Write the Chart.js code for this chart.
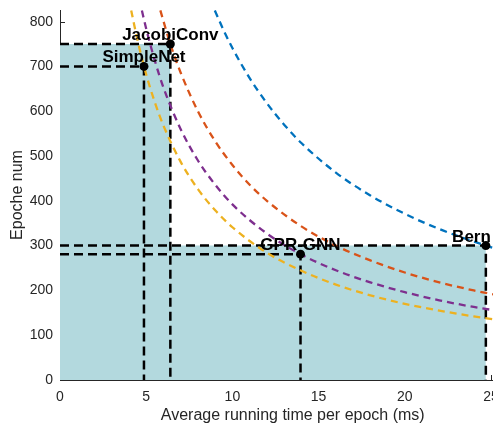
<!DOCTYPE html>
<html>
<head>
<meta charset="utf-8">
<script src="https://cdn.jsdelivr.net/npm/chart.js@4"></script>
<style>
html, body { margin: 0; padding: 0; background: #fff; overflow: hidden; }
</style>
</head>
<body>
<canvas id="myChart" width="530" height="424"></canvas>
<script>
const methods = ['SimpleNet', 'JacobiConv', 'GPR-GNN', 'Bern'];
const runTimes = [4.87, 6.4, 13.95, 24.7];
const epochNums = [700, 750, 281, 300];
const xTicks = [0, 5, 10, 15, 20, 25];
const yTicks = [0, 100, 200, 300, 400, 500, 600, 700, 800];

// dashed iso-cost curves
const yellowX = [4.13, 4.5, 5, 5.5, 6, 7, 8, 9, 10, 12, 14, 16, 18, 20, 22, 24, 26, 27];
const yellowY = [825, 758, 682, 620, 568, 487, 426, 379, 341, 284, 244, 213, 189, 170, 155, 142, 131, 126];
const purpleX = [4.75, 5, 5.5, 6, 7, 8, 9, 10, 12, 14, 16, 18, 20, 22, 24, 26, 27];
const purpleY = [825, 784, 713, 653, 560, 490, 436, 392, 327, 280, 245, 218, 196, 178, 163, 151, 145];
const orangeX = [5.82, 6.4, 7, 8, 9, 10, 11, 12, 14, 16, 18, 20, 22, 24, 26, 27];
const orangeY = [825, 750, 686, 600, 533, 480, 436, 400, 343, 300, 267, 240, 218, 200, 185, 178];
const blueX = [8.98, 9.5, 10, 11, 12, 13, 14, 16, 18, 20, 22, 24, 24.7, 26, 27];
const blueY = [825, 780, 741, 674, 618, 570, 529, 463, 412, 371, 337, 309, 300, 285, 274];

Chart.defaults.font.family = '"Liberation Sans", Arial, sans-serif';
Chart.defaults.color = '#262626';

const toPts = (xs, ys) => xs.map((x, i) => ({ x: x, y: ys[i] }));
const shade = '#b3d9de';

const datasets = [];

// shaded rectangles under each method
methods.forEach((m, i) => {
    datasets.push({
        data: [{ x: 0, y: epochNums[i] }, { x: runTimes[i], y: epochNums[i] }, { x: runTimes[i], y: 0 }],
        showLine: true,
        borderWidth: 0,
        borderColor: shade,
        backgroundColor: shade,
        fill: 'origin',
        pointRadius: 0,
        order: 10,
    });
});

// black dashed guide lines
methods.forEach((m, i) => {
    datasets.push({
        data: [{ x: 0, y: epochNums[i] }, { x: runTimes[i], y: epochNums[i] }, { x: runTimes[i], y: 0 }],
        showLine: true,
        borderColor: '#000',
        borderWidth: 2.5,
        borderDash: [9, 5],
        pointRadius: 0,
        fill: false,
        clip: false,
        order: 6,
    });
});

const curves = [
    [blueX, blueY, '#0072BD'],
    [orangeX, orangeY, '#D95319'],
    [purpleX, purpleY, '#7E2F8E'],
    [yellowX, yellowY, '#EDB120'],
];
curves.forEach((c) => {
    datasets.push({
        data: toPts(c[0], c[1]),
        showLine: true,
        borderColor: c[2],
        borderWidth: 2.3,
        borderDash: [7, 5],
        cubicInterpolationMode: 'monotone',
        pointRadius: 0,
        fill: false,
        order: 4,
    });
});

// method points
datasets.push({
    data: toPts(runTimes, epochNums),
    showLine: false,
    pointRadius: 4.5,
    pointBackgroundColor: '#000',
    pointBorderColor: '#000',
    pointBorderWidth: 0,
    clip: false,
    order: 1,
});

const config = {
    type: 'scatter',
    data: { datasets: datasets },
    options: {
        responsive: false,
        animation: false,
        layout: { padding: { top: 10, right: 3, left: 0, bottom: 0 } },
        scales: {
            x: {
                type: 'linear',
                min: 0,
                max: 27,
                afterBuildTicks: (scale) => { scale.ticks = xTicks.map((v) => ({ value: v })); },
                afterFit: (scale) => { scale.height = 44; },
                grid: { display: false, drawTicks: false },
                border: { display: true, color: '#262626', width: 1 },
                ticks: { font: { size: 14 }, padding: 9, maxRotation: 0, autoSkip: false },
                title: {
                    display: true,
                    text: 'Average running time per epoch (ms)',
                    font: { size: 16, lineHeight: 1 },
                    padding: { top: 0, bottom: 0 },
                },
            },
            y: {
                min: 0,
                max: 826,
                afterBuildTicks: (scale) => { scale.ticks = yTicks.map((v) => ({ value: v })); },
                afterFit: (scale) => {
                    scale.width = 60;
                    scale.paddingTop = 0;
                    scale.paddingBottom = 0;
                },
                grid: { display: false, drawTicks: false },
                border: { display: true, color: '#262626', width: 1 },
                ticks: { font: { size: 14 }, padding: 7 },
                title: {
                    display: true,
                    text: 'Epoche num',
                    font: { size: 16, lineHeight: 1 },
                    padding: { top: 9.5, bottom: 0 },
                },
            },
        },
        plugins: {
            legend: { display: false },
            tooltip: { enabled: false },
        },
    },
    plugins: [
        {
            // inward tick marks, drawn under the shading
            beforeDatasetsDraw: (chart) => {
                const ctx = chart.ctx;
                const xs = chart.scales.x;
                const ys = chart.scales.y;
                ctx.save();
                ctx.strokeStyle = '#262626';
                ctx.lineWidth = 1;
                ctx.beginPath();
                xTicks.forEach((v) => {
                    const px = Math.round(xs.getPixelForValue(v)) + 0.5;
                    ctx.moveTo(px, ys.bottom);
                    ctx.lineTo(px, ys.bottom - 5);
                });
                yTicks.forEach((v) => {
                    const py = Math.round(ys.getPixelForValue(v)) + 0.5;
                    ctx.moveTo(xs.left, py);
                    ctx.lineTo(xs.left + 5, py);
                });
                ctx.stroke();
                ctx.restore();
            },
            afterDatasetsDraw: (chart) => {
                const ctx = chart.ctx;
                const xs = chart.scales.x;
                const ys = chart.scales.y;
                ctx.save();
                ctx.font = 'bold 17px "Liberation Sans", Arial, sans-serif';
                ctx.fillStyle = '#000';
                ctx.textBaseline = 'alphabetic';
                methods.forEach((m, i) => {
                    const px = xs.getPixelForValue(runTimes[i]);
                    const py = ys.getPixelForValue(epochNums[i]);
                    if (i === methods.length - 1) {
                        ctx.textAlign = 'right';
                        ctx.fillText(m, px + 5, py - 4);
                    } else {
                        ctx.textAlign = 'center';
                        ctx.fillText(m, px, py - 4);
                    }
                });
                ctx.restore();
            },
        },
    ],
};

const myChart = new Chart(document.getElementById('myChart'), config);
</script>
</body>
</html>
